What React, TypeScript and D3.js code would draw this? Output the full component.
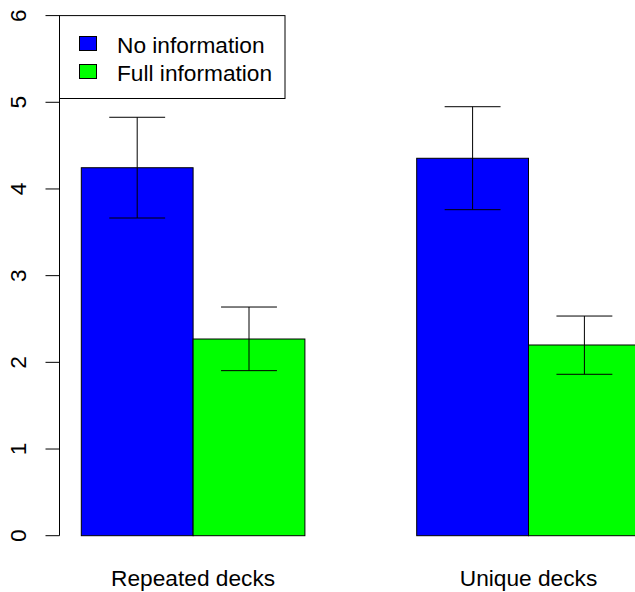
import React from "react";
import * as d3 from "d3";

const categories = ["Repeated decks", "Unique decks"];
const seriesNames = ["No information", "Full information"];
const seriesColors = ["#0000ff", "#00ff00"];
const noInfo = [4.245, 4.354];
const fullInfo = [2.269, 2.2];
const noInfoLo = [3.665, 3.761];
const noInfoHi = [4.827, 4.949];
const fullInfoLo = [1.904, 1.862];
const fullInfoHi = [2.638, 2.534];
const yTicks = [0, 1, 2, 3, 4, 5, 6];

const W = 635;
const H = 592;
const FONT = "'Liberation Sans', Arial, Helvetica, sans-serif";
const FS = 22.7;

export default function App() {
  const y = d3.scaleLinear().domain([0, 6]).range([535.7, 15.6]);
  const x = d3.scaleLinear().domain([0, 6]).range([-30.5, 640.3]);
  const values = [noInfo, fullInfo];
  const lo = [noInfoLo, fullInfoLo];
  const hi = [noInfoHi, fullInfoHi];
  const axisX = 59.5;
  const capHalf = 0.25;

  const bars: JSX.Element[] = [];
  const errs: JSX.Element[] = [];
  categories.forEach((c, g) => {
    seriesNames.forEach((s, j) => {
      const u = 1 + g * 3 + j;
      const v = values[j][g];
      bars.push(
        <rect
          key={`b${g}${j}`}
          x={x(u)}
          y={y(v)}
          width={x(u + 1) - x(u)}
          height={y(0) - y(v)}
          fill={seriesColors[j]}
          stroke="#000"
          strokeWidth={1}
        />
      );
      const cx = x(u + 0.5);
      errs.push(
        <g key={`e${g}${j}`} stroke="#000" strokeWidth={1}>
          <line x1={cx} x2={cx} y1={y(hi[j][g])} y2={y(lo[j][g])} />
          <line x1={x(u + 0.5 - capHalf)} x2={x(u + 0.5 + capHalf)} y1={y(hi[j][g])} y2={y(hi[j][g])} />
          <line x1={x(u + 0.5 - capHalf)} x2={x(u + 0.5 + capHalf)} y1={y(lo[j][g])} y2={y(lo[j][g])} />
        </g>
      );
    });
  });

  return (
    <svg
      width={W}
      height={H}
      style={{ position: "absolute", left: 0, top: 0, background: "#fff" }}
      fontFamily={FONT}
    >
      <rect x={0} y={0} width={W} height={H} fill="#fff" />
      {bars}
      {errs}
      {/* y axis */}
      <line x1={axisX} x2={axisX} y1={y(0)} y2={y(6)} stroke="#000" strokeWidth={1} />
      {yTicks.map((t) => (
        <g key={t}>
          <line x1={axisX - 14} x2={axisX} y1={y(t)} y2={y(t)} stroke="#000" strokeWidth={1} />
          <text
            transform={`translate(25.5,${y(t)}) rotate(-90)`}
            textAnchor="middle"
            fontSize={FS}
            fill="#000"
          >
            {t}
          </text>
        </g>
      ))}
      {/* category labels */}
      {categories.map((c, g) => (
        <text key={c} x={x(2 + 3 * g)} y={586} textAnchor="middle" fontSize={FS} fill="#000">
          {c}
        </text>
      ))}
      {/* legend */}
      <rect x={axisX} y={15.6} width={285 - axisX} height={98.5 - 15.6} fill="#fff" stroke="#000" strokeWidth={1} />
      {seriesNames.map((s, j) => (
        <g key={s}>
          <rect x={79.5} y={36.5 + j * 28} width={17} height={14} fill={seriesColors[j]} stroke="#000" strokeWidth={1} />
          <text x={117} y={52.7 + j * 28} fontSize={FS} fill="#000">
            {s}
          </text>
        </g>
      ))}
    </svg>
  );
}
